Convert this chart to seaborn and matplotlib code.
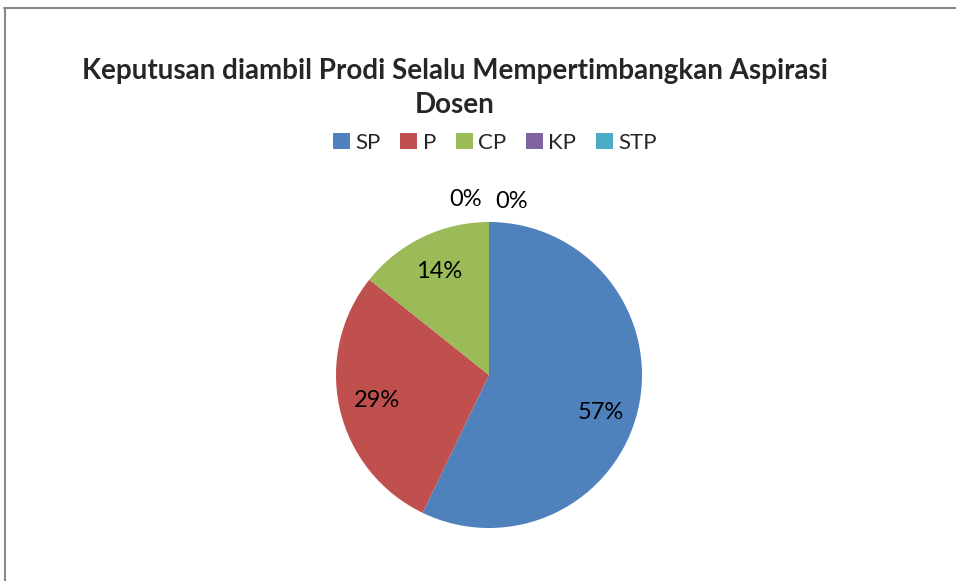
import matplotlib
matplotlib.use("Agg")
import matplotlib.pyplot as plt
import seaborn as sns
import numpy as np

# data
categories = ["SP", "P", "CP", "KP", "STP"]
counts = [4, 2, 1, 0, 0]
colors = ["#4F81BD", "#C0504D", "#9BBB59", "#8064A2", "#4BACC6"]
title = "Keputusan diambil Prodi Selalu Mempertimbangkan Aspirasi\nDosen"

sns.set_theme(style="white")
plt.rcParams["font.family"] = ["Lato", "DejaVu Sans"]

W, H = 956, 581
fig = plt.figure(figsize=(W / 100, H / 100), dpi=100)
fig.patch.set_facecolor("white")

# pie axes: centre (489, 375) px, radius 153 px
cx, cy, r = 489, 375, 153
ax = fig.add_axes([(cx - r) / W, (H - cy - r) / H, 2 * r / W, 2 * r / H])
wedges, texts, autotexts = ax.pie(
    counts, colors=colors, startangle=90, counterclock=False,
    autopct=lambda p: f"{p:.0f}%", pctdistance=0.75, radius=1,
    textprops={"fontsize": 17, "color": "black"},
    wedgeprops={"linewidth": 0},
)
# zero slices sit at the top, label them just outside the rim
zero_idx = [i for i, c in enumerate(counts) if c == 0]
for k, i in enumerate(zero_idx):
    side = -1 if k == 0 else 1
    autotexts[i].set_position((side * 0.15, 1.15 - 0.015 * k))
# excel nudges the biggest label a bit lower
x0, y0 = autotexts[0].get_position()
autotexts[0].set_position((x0, y0 - 0.08))
ax.set_xlim(-1, 1)
ax.set_ylim(-1, 1)
ax.axis("off")

fig.text(455 / W, 1 - 88 / H, title, ha="center", va="center",
         fontsize=20, fontweight="bold", linespacing=1.35)

fig.legend(wedges, categories, loc="center", bbox_to_anchor=(495 / W, 1 - 143 / H),
           ncol=5, frameon=False, fontsize=16, handlelength=0.75, handleheight=0.75,
           handletextpad=0.25, columnspacing=0.9, borderpad=0)

# chart area border (top and left only visible)
fig.add_artist(plt.Line2D([4 / W, 1], [1 - 7.5 / H, 1 - 7.5 / H], color="#888888", lw=1.5))
fig.add_artist(plt.Line2D([5 / W, 5 / W], [0, 1 - 7.5 / H], color="#888888", lw=1.5))

fig.savefig("out.png", dpi=100, facecolor="white")
